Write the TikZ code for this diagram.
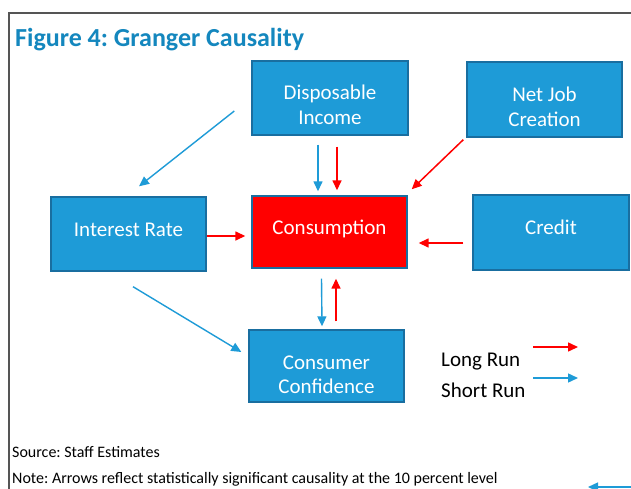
\documentclass[tikz,border=0pt]{standalone}
\usepackage{fontspec}
\setmainfont{Carlito}
\usetikzlibrary{arrows.meta,calc}
\definecolor{boxblue}{RGB}{30,155,215}
\definecolor{edgeblue}{RGB}{25,110,160}
\definecolor{titleblue}{RGB}{20,135,190}
\definecolor{arrred}{RGB}{255,0,0}
\definecolor{framegray}{RGB}{85,85,85}
\frenchspacing
\begin{document}
\frenchspacing
\begin{tikzpicture}[x=1pt,y=-1pt,
  box/.style={draw=edgeblue, line width=1.4pt, fill=boxblue, minimum width=155pt, minimum height=74pt, inner sep=0pt},
  bt/.style={text=white, font=\fontsize{21}{25}\selectfont, anchor=base, inner sep=0pt},
  arrtip/.style={-{Triangle[length=10pt,width=9pt]}},
  redarr/.style={arrtip, draw=arrred, line width=1.5pt},
  bluearr/.style={arrtip, draw=boxblue, line width=1.4pt},
  plain/.style={anchor=base west, inner sep=0pt}]
\useasboundingbox (0,0) rectangle (631,489);
\clip (0,0) rectangle (631,489);
\fill[white] (0,0) rectangle (631,489);
% frame
\draw[framegray, line width=1.5pt] (9,489) -- (9,13) -- (640,13);
% title
\node[plain, text=titleblue, font=\fontsize{26}{30}\selectfont\bfseries] (title) at (15,47) {Figure 4: Granger Causality};
% boxes
\node[box, minimum width=156pt] (di) at (330,98) {};
\node[box, minimum height=75pt] (nj) at (544.5,99.5) {};
\node[box, minimum width=156pt, minimum height=75pt] (cr) at (551,232.5) {};
\node[box, fill=arrred, minimum height=72pt] (cons) at (329.5,232) {};
\node[box] (ir) at (128.5,234) {};
\node[box, minimum height=72pt] (cc) at (326.5,366) {};
% box texts
\node[bt] (di1) at ($(di.center)+(0,2)$) {Disposable};
\node[bt] (di2) at ($(di.center)+(0,27)$) {Income};
\node[bt] (nj1) at ($(nj.center)+(0,2.5)$) {Net Job};
\node[bt] (nj2) at ($(nj.center)+(0,27.5)$) {Creation};
\node[bt] (cr1) at ($(cr.center)+(0,1.5)$) {Credit};
\node[bt] (cons1) at ($(cons.center)+(0,2)$) {Consumption};
\node[bt] (ir1) at ($(ir.center)+(0,2)$) {Interest Rate};
\node[bt] (cc1) at ($(cc.center)+(0,3)$) {Consumer};
\node[bt] (cc2) at ($(cc.center)+(0,27)$) {Confidence};
% connectors
\draw[bluearr] ($(di.west)+(-17,13)$) -- ($(ir.north)+(10.5,-10)$);
\draw[bluearr] ($(di.south)+(-12,9)$) -- ($(cons.north)+(-11.5,-4)$);
\draw[redarr] ($(di.south)+(7,11)$) -- ($(cons.north)+(7.5,-5)$);
\draw[redarr] ($(nj.south west)+(-3,2)$) -- ($(cons.north east)+(4,-6)$);
\draw[redarr] ($(cr.west)+(-9,10.5)$) -- ($(cons.east)+(11,11)$);
\draw[redarr] ($(ir.east)+(0,2)$) -- ($(cons.west)+(-6,4)$);
\draw[bluearr] ($(ir.south)+(4.5,15)$) -- ($(cc.west)+(-7,-14)$);
\draw[bluearr] ($(cons.south)+(-8,10)$) -- ($(cc.north)+(-4.5,-3)$);
\draw[redarr] ($(cc.north)+(9.5,-8)$) -- ($(cons.south)+(6.5,10)$);
% legend
\node[plain, font=\fontsize{21}{25}\selectfont] (lr) at (441,366) {Long Run};
\node[plain, font=\fontsize{21}{25}\selectfont] (sr) at (441,397) {Short Run};
\coordinate (lra) at (533,347);
\coordinate (lrb) at (578,347);
\coordinate (sra) at (533,378);
\coordinate (srb) at (578,378);
\draw[redarr] (lra) -- (lrb);
\draw[bluearr] (sra) -- (srb);
% footer
\node[plain, font=\fontsize{16}{19}\selectfont] (src) at (12,457) {Source: Staff Estimates};
\node[plain, font=\fontsize{16}{19}\selectfont] (note) at (12,483) {Note: Arrows reflect statistically significant causality at the 10 percent level};
\coordinate (fa) at (640,487);
\coordinate (fb) at (588,487);
\draw[bluearr] (fa) -- (fb);
\end{tikzpicture}
\end{document}
